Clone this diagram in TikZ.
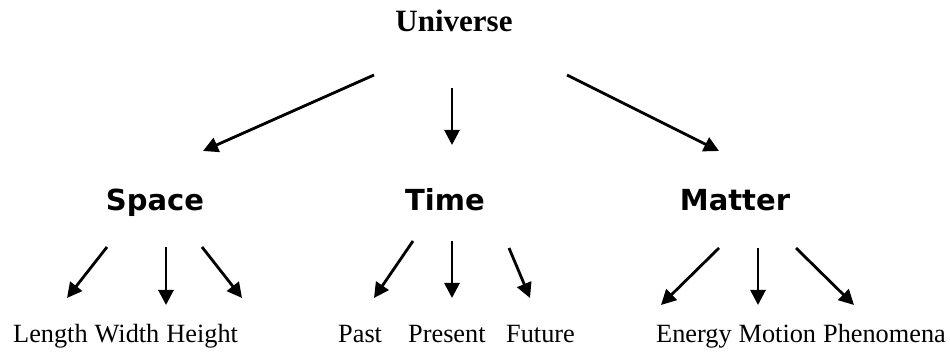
\documentclass[tikz,border=0pt]{standalone}
\usepackage{fontspec}
\setmainfont{Liberation Serif}
\newfontfamily\headsans{DejaVu Sans}
\usetikzlibrary{arrows.meta}
\tikzset{
  x=1pt, y=-1pt,
  leaf/.style={inner sep=0pt, anchor=base west, font=\fontsize{26.3}{30}\selectfont},
  topnode/.style={inner sep=0pt, anchor=base, font=\fontsize{31}{36}\selectfont\bfseries},
  midnode/.style={inner sep=0pt, anchor=base, font=\headsans\fontsize{29}{34}\selectfont\bfseries},
  arr/.style={line width=2.8pt, -{Triangle[length=15pt,width=15pt]}},
}
\begin{document}
\begin{tikzpicture}
\useasboundingbox (0,0) rectangle (950,352);
% nodes
\node[topnode] (universe) at (454,32) {Universe};
\node[midnode] (space) at (155,211) {Space};
\node[midnode] (time) at (445,211) {Time};
\node[midnode] (matter) at (735,211) {Matter};
% leaves
\node[leaf] (length) at (13,342) {Length};
\node[leaf] (width) at ([xshift=6.6pt]length.base east) {Width};
\node[leaf] (height) at ([xshift=6.6pt]width.base east) {Height};
\node[leaf] (past) at (338,342) {Past};
\node[leaf] (present) at (408,342) {Present};
\node[leaf] (future) at (506,342) {Future};
\node[leaf] (energy) at (656,342) {Energy};
\node[leaf] (motion) at ([xshift=6.6pt]energy.base east) {Motion};
\node[leaf] (phenomena) at ([xshift=6.6pt]motion.base east) {Phenomena};
% arrow end points
\coordinate (u1s) at (374,75);  \coordinate (u1e) at (203,151);
\coordinate (u2s) at (452,88);  \coordinate (u2e) at (452,145);
\coordinate (u3s) at (567,75);  \coordinate (u3e) at (719,151);
\coordinate (s1s) at (107,247); \coordinate (s1e) at (67,298);
\coordinate (s2s) at (166,247); \coordinate (s2e) at (166,305);
\coordinate (s3s) at (202,247); \coordinate (s3e) at (242,298);
\coordinate (t1s) at (413,241); \coordinate (t1e) at (374,298);
\coordinate (t2s) at (452,241); \coordinate (t2e) at (452,298);
\coordinate (t3s) at (509,248); \coordinate (t3e) at (530,298);
\coordinate (m1s) at (719,248); \coordinate (m1e) at (661,305);
\coordinate (m2s) at (758,248); \coordinate (m2e) at (758,305);
\coordinate (m3s) at (796,248); \coordinate (m3e) at (854,305);
% arrows
\draw[arr] (u1s) -- (u1e);
\draw[arr] (u2s) -- (u2e);
\draw[arr] (u3s) -- (u3e);
\draw[arr] (s1s) -- (s1e);
\draw[arr] (s2s) -- (s2e);
\draw[arr] (s3s) -- (s3e);
\draw[arr] (t1s) -- (t1e);
\draw[arr] (t2s) -- (t2e);
\draw[arr] (t3s) -- (t3e);
\draw[arr] (m1s) -- (m1e);
\draw[arr] (m2s) -- (m2e);
\draw[arr] (m3s) -- (m3e);
\end{tikzpicture}
\end{document}
